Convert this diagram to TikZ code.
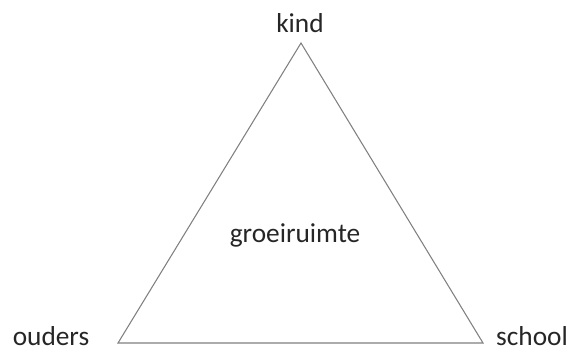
\documentclass[tikz,border=0pt]{standalone}
\usepackage{fontspec}
\setmainfont{Carlito}
\usepackage{tikz}
\usetikzlibrary{positioning,calc}

\begin{document}
\begin{tikzpicture}[
    x=0.75pt, y=-0.75pt,
    lbl/.style={font=\fontsize{20.5}{24}\selectfont, anchor=base, inner sep=0pt, text=black!85},
    side/.style={draw=black!50, line width=0.8pt, line join=miter}
]
\useasboundingbox (0,0) rectangle (571,351);
\coordinate (K) at (301,43);
\coordinate (O) at (118,343);
\coordinate (S) at (483,343);

\node[lbl] (kind) at (300,32) {kind};
\node[lbl] (ouders) at (51,345) {ouders};
\node[lbl] (school) at (532,345) {school};
\node[lbl] (groei) at (295,242) {groeiruimte};

\draw[side] (K) -- (O) -- (S) -- cycle;
\end{tikzpicture}
\end{document}
